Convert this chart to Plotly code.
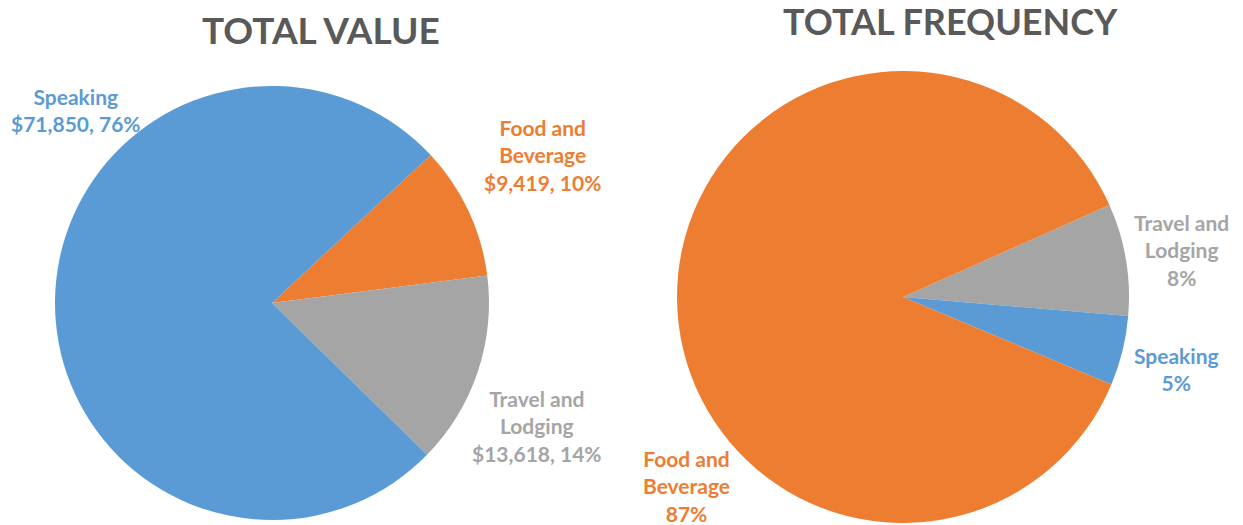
import plotly.graph_objects as go

# ---- data ----
value_categories = ["Food and Beverage", "Travel and Lodging", "Speaking"]
value_amounts = [9419, 13618, 71850]

freq_categories = ["Travel and Lodging", "Speaking", "Food and Beverage"]
freq_percents = [8, 5, 87]

titles = ["TOTAL VALUE", "TOTAL FREQUENCY"]

# ---- styles ----
W, H = 1243, 525
OX, OY = 8, 8  # page body margin offset
colors = {"Speaking": "#5B9BD5", "Food and Beverage": "#ED7D31", "Travel and Lodging": "#A5A5A5"}
FONT = "Lato"

def px(x, y):
    return (x - OX) / W, 1 - (y - OY) / H

def px_dom(x0, x1, ytop, ybot):
    a, b = px(x0, ybot)
    c, d = px(x1, ytop)
    return dict(x=[a, c], y=[b, d])

fig = go.Figure()
fig.add_trace(go.Pie(
    labels=value_categories, values=value_amounts, sort=False, direction="clockwise",
    rotation=47, textinfo="none", hoverinfo="label+value+percent",
    marker=dict(colors=[colors[c] for c in value_categories], line=dict(width=0)),
    domain=px_dom(55, 489, 86, 520), showlegend=False))
fig.add_trace(go.Pie(
    labels=freq_categories, values=freq_percents, sort=False, direction="clockwise",
    rotation=66, textinfo="none", hoverinfo="label+percent",
    marker=dict(colors=[colors[c] for c in freq_categories], line=dict(width=0)),
    domain=px_dom(677, 1129, 71, 523), showlegend=False))

annotations = []
# titles
title_pos = [(321, 29), (950, 21)]
title_sizes = [37, 36]
for t, (x, y), s in zip(titles, title_pos, title_sizes):
    ax, ay = px(x, y)
    annotations.append(dict(text="<b>%s</b>" % t, x=ax, y=ay, xref="paper", yref="paper",
                            showarrow=False, xanchor="center", yanchor="middle",
                            font=dict(family=FONT, size=s, color="#595959")))

def split_name(name):
    if name == "Speaking":
        return "Speaking"
    a, b = name.split(" and ")
    return a + " and<br>" + b

# value labels
total_v = sum(value_amounts)
value_label_pos = {"Speaking": (76, 110), "Food and Beverage": (542, 155), "Travel and Lodging": (537, 426)}
for c, v in zip(value_categories, value_amounts):
    pct = round(100 * v / total_v)
    txt = "<b>%s<br>$%s, %d%%</b>" % (split_name(c), format(v, ","), pct)
    ax, ay = px(*value_label_pos[c])
    annotations.append(dict(text=txt, x=ax, y=ay, xref="paper", yref="paper",
                            showarrow=False, xanchor="center", yanchor="middle", align="center",
                            font=dict(family=FONT, size=21, color=colors[c])))

# frequency labels
total_f = sum(freq_percents)
freq_label_pos = {"Travel and Lodging": (1181, 250), "Speaking": (1176, 369), "Food and Beverage": (686, 486)}
for c, v in zip(freq_categories, freq_percents):
    pct = round(100 * v / total_f)
    txt = "<b>%s<br>%d%%</b>" % (split_name(c), pct)
    ax, ay = px(*freq_label_pos[c])
    annotations.append(dict(text=txt, x=ax, y=ay, xref="paper", yref="paper",
                            showarrow=False, xanchor="center", yanchor="middle", align="center",
                            font=dict(family=FONT, size=21, color=colors[c])))

fig.update_layout(width=W, height=H, margin=dict(l=0, r=0, t=0, b=0),
                  paper_bgcolor="white", plot_bgcolor="white",
                  annotations=annotations)

fig.write_html("out.html")
